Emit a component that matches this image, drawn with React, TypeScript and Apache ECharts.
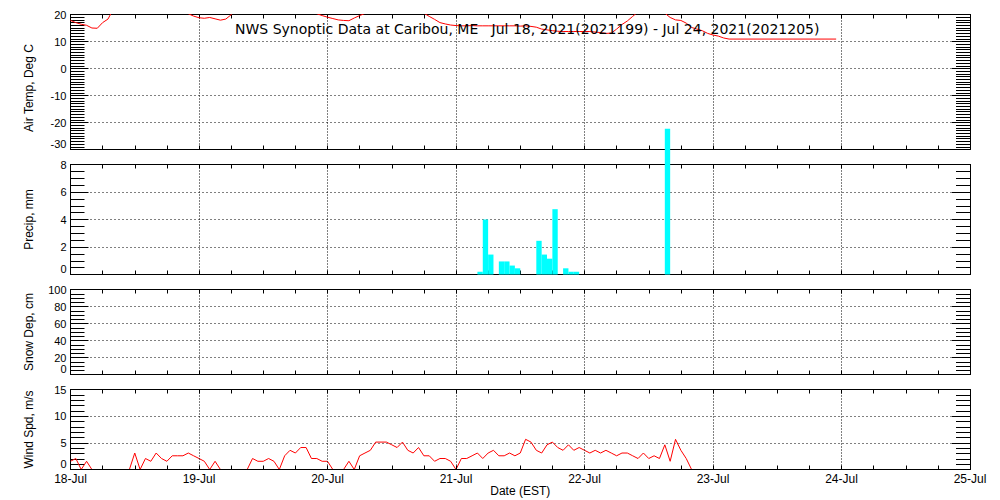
import React, { useEffect, useRef } from "react";
import * as echarts from "echarts";

const FONT = "Liberation Sans";
const TITLE_FONT = "DejaVu Sans";

const titleText =
  "NWS Synoptic Data at Caribou, ME   Jul 18, 2021(2021199) - Jul 24, 2021(2021205)";
const dayLabels = ["18-Jul", "19-Jul", "20-Jul", "21-Jul", "22-Jul", "23-Jul", "24-Jul", "25-Jul"];
const axisNames = ["Air Temp, Deg C", "Precip, mm", "Snow Dep, cm", "Wind Spd, m/s"];
const xAxisName = "Date (EST)";

// Hours since 18-Jul 00:00 EST, hourly observations
const tempHours = [
  0, 1, 2, 3, 4, 5, 6, 7, 8, 9, 10, 11, 12, 13, 14, 15, 16, 17, 18, 19, 20, 21, 22, 23,
  24, 25, 26, 27, 28, 29, 30, 31, 32, 33, 34, 35, 36, 37, 38, 39, 40, 41, 42, 43, 44, 45, 46, 47,
  48, 49, 50, 51, 52, 53, 54, 55, 56, 57, 58, 59, 60, 61, 62, 63, 64, 65, 66, 67, 68, 69, 70, 71,
  72, 73, 74, 75, 76, 77, 78, 79, 80, 81, 82, 83, 84, 85, 86, 87, 88, 89, 90, 91, 92, 93, 94, 95,
  96, 97, 98, 99, 100, 101, 102, 103, 104, 105, 106, 107, 108, 109, 110, 111, 112, 113, 114, 115,
  116, 117, 118, 119, 120, 121, 122, 123, 143,
];
const tempC = [
  17.8, 17.0, 16.4, 16.0, 15.0, 14.9, 17.0, 18.3, 22.0, 23.5, 25.0, 26.0, 27.0, 27.5, 28.0, 27.5,
  27.0, 26.0, 24.5, 23.0, 22.0, 21.0, 20.3, 19.4,
  18.8, 18.6, 18.9, 18.4, 17.9, 18.3, 19.9, 22.0, 23.5, 25.0, 26.0, 27.0, 27.5, 28.0, 28.0, 27.5,
  26.5, 25.5, 24.0, 23.0, 22.0, 21.0, 20.3, 19.6,
  19.0, 18.5, 18.0, 17.8, 17.7, 18.7, 19.6, 20.4, 22.0, 23.5, 25.0, 26.0, 27.0, 27.5, 27.0, 26.0,
  24.5, 22.5, 20.5, 19.3, 18.2, 17.0, 16.5, 16.1,
  15.9, 15.8, 15.8, 15.9, 15.8, 15.8, 15.8, 15.8, 15.8, 15.8, 15.8, 15.8, 15.7, 15.8, 15.6, 15.3,
  14.6, 14.3, 14.0, 13.8, 13.7, 13.7, 13.7, 13.7,
  13.7, 13.7, 13.5, 13.3, 13.0, 13.1, 14.6, 16.3, 17.6, 19.3, 21.0, 22.5, 23.5, 23.0, 22.0, 20.5,
  18.9, 18.0, 17.8, 16.8,
  15.2, 14.6, 14.0, 13.0, 12.4, 12.0, 11.3, 10.9, 10.9,
];

// Hourly precipitation bins (start hour) and amounts in mm
const precipHour = [76, 77, 78, 80, 81, 82, 83, 87, 88, 89, 90, 92, 93, 94, 111];
const precipMm = [0.2, 4.0, 1.45, 0.95, 0.95, 0.65, 0.45, 2.45, 1.45, 1.15, 4.75, 0.45, 0.2, 0.2, 10.6];

// Snow depth: no observations in this period
const snowHours: number[] = [];
const snowCm: number[] = [];

// Wind speed, m/s, hourly from hour 0 to 116
const windMs = [
  1.54, 2.06, 0, 1.54, 0, 0, 0, 0, 0, 0, 0, 0, 3.09, 0, 2.06, 1.54, 3.09, 2.06, 1.54, 2.57, 2.57,
  2.57, 3.09, 2.57,
  2.06, 1.54, 0, 1.54, 0, 0, 0, 0, 0, 0, 2.06, 1.54, 1.54, 2.06, 1.54, 0, 2.57, 3.6, 3.09, 4.12,
  4.12, 2.06, 2.06, 1.54,
  1.54, 0, 0, 0, 1.54, 0, 2.57, 3.09, 3.6, 5.14, 5.14, 5.14, 4.63, 4.12, 5.14, 3.6, 3.09, 4.12,
  2.57, 2.57, 1.54, 2.06, 2.06, 1.54,
  0, 2.06, 2.06, 2.57, 3.09, 2.06, 3.09, 3.6, 2.57, 2.57, 3.09, 2.57, 3.09, 5.66, 5.14, 3.6, 3.09,
  4.63, 5.14, 4.12, 3.6, 4.63, 3.6, 4.12,
  3.6, 3.09, 3.6, 3.09, 3.6, 3.09, 2.57, 3.09, 3.09, 2.57, 2.06, 3.09, 2.06, 2.57, 2.06, 4.63,
  1.54, 5.66, 3.6, 2.06, 0,
];

const yRanges = [
  { min: -30, max: 20, interval: 10, minor: 10 },
  { min: 0, max: 8, interval: 2, minor: 4 },
  { min: 0, max: 100, interval: 20, minor: 4 },
  { min: 0, max: 15, interval: 5, minor: 5 },
];

const panels = [
  { top: 14.5, height: 135 },
  { top: 164.5, height: 110 },
  { top: 289.5, height: 85 },
  { top: 389.5, height: 80 },
];

export default function App() {
  const ref = useRef<HTMLDivElement>(null);

  useEffect(() => {
    if (!ref.current) return;
    const chart = echarts.init(ref.current, null, { renderer: "svg" });
    const black = "#000000";
    const dottedH = { color: black, width: 1, type: [1, 3] as number[] };
    const dottedV = { color: black, width: 1, type: [1, 2] as number[] };

    const grids = panels.map((p) => ({ left: 70.5, right: 30, top: p.top, height: p.height }));

    const xAxes: any[] = [];
    const yAxes: any[] = [];
    panels.forEach((_, i) => {
      const isLast = i === panels.length - 1;
      const baseX = {
        type: "value",
        gridIndex: i,
        min: 0,
        max: 168,
        interval: 24,
        axisLine: { show: true, onZero: false, lineStyle: { color: black, width: 1 } },
        axisTick: { show: true, inside: true, length: 4, lineStyle: { color: black } },
        minorTick: { show: true, splitNumber: 4, length: 4, lineStyle: { color: black } },
      };
      xAxes.push({
        ...baseX,
        position: "bottom",
        z: isLast ? 5 : 0,
        splitLine: { show: true, lineStyle: dottedV },
        axisLabel: {
          show: isLast,
          color: black,
          fontFamily: FONT,
          fontSize: 12,
          margin: 3,
          showMinLabel: true,
          showMaxLabel: true,
          formatter: (v: number) => dayLabels[Math.round(v / 24)] ?? "",
        },
        name: isLast ? xAxisName : "",
        nameLocation: "middle",
        nameGap: 15,
        nameTextStyle: { color: black, fontFamily: FONT, fontSize: 12 },
      });
      xAxes.push({
        ...baseX,
        position: "top",
        splitLine: { show: false },
        axisLabel: { show: false },
      });

      const r = yRanges[i];
      const baseY = {
        type: "value",
        gridIndex: i,
        min: r.min,
        max: r.max,
        interval: r.interval,
        axisLine: { show: true, onZero: false, lineStyle: { color: black, width: 1 } },
        axisTick: { show: true, inside: true, length: 18, lineStyle: { color: black } },
        minorTick: { show: true, splitNumber: r.minor, length: 14, lineStyle: { color: black } },
      };
      yAxes.push({
        ...baseY,
        position: "left",
        splitLine: { show: true, lineStyle: dottedH },
        axisLabel: {
          show: true,
          color: black,
          fontFamily: FONT,
          fontSize: 11,
          margin: 4,
          showMinLabel: true,
          showMaxLabel: true,
          verticalAlignMinLabel: "bottom",
        },
        name: axisNames[i],
        nameLocation: "middle",
        nameRotate: 90,
        nameGap: 36,
        nameTextStyle: {
          color: black,
          fontFamily: FONT,
          fontSize: 12,
          padding: i === 0 ? [0, 12, 0, 0] : 0,
        },
      });
      yAxes.push({
        ...baseY,
        position: "right",
        splitLine: { show: false },
        axisLabel: { show: false },
      });
    });

    const tempData = tempHours.map((h, i) => [h, tempC[i]]);
    const precipData = precipHour.map((h, i) => [h + 0.5, precipMm[i]]);
    const snowData = snowHours.map((h, i) => [h, snowCm[i]]);
    const windData = windMs.map((v, i) => [i, v]);

    const option: any = {
      animation: false,
      backgroundColor: "#ffffff",
      textStyle: { fontFamily: FONT },
      title: {
        text: titleText,
        left: 235,
        top: 22,
        padding: 0,
        textStyle: { color: black, fontFamily: TITLE_FONT, fontSize: 14, fontWeight: "normal" },
      },
      grid: grids,
      xAxis: xAxes,
      yAxis: yAxes,
      series: [
        {
          name: "Air Temp",
          type: "line",
          xAxisIndex: 0,
          yAxisIndex: 0,
          data: tempData,
          showSymbol: false,
          symbol: "none",
          clip: true,
          lineStyle: { color: "#ff0000", width: 1 },
        },
        {
          name: "Precip",
          type: "bar",
          xAxisIndex: 2,
          yAxisIndex: 2,
          data: precipData,
          barWidth: 5.35,
          clip: false,
          z: 10,
          itemStyle: { color: "#00ffff" },
        },
        {
          name: "Snow Depth",
          type: "line",
          xAxisIndex: 4,
          yAxisIndex: 4,
          data: snowData,
          showSymbol: false,
          lineStyle: { color: "#ff0000", width: 1 },
        },
        {
          name: "Wind Spd",
          type: "line",
          xAxisIndex: 6,
          yAxisIndex: 6,
          data: windData,
          showSymbol: false,
          symbol: "none",
          clip: true,
          lineStyle: { color: "#ff0000", width: 1 },
        },
      ],
    };
    chart.setOption(option);
    return () => chart.dispose();
  }, []);

  return (
    <div
      ref={ref}
      style={{ position: "absolute", left: 0, top: 0, width: 1000, height: 500, background: "#fff" }}
    />
  );
}
